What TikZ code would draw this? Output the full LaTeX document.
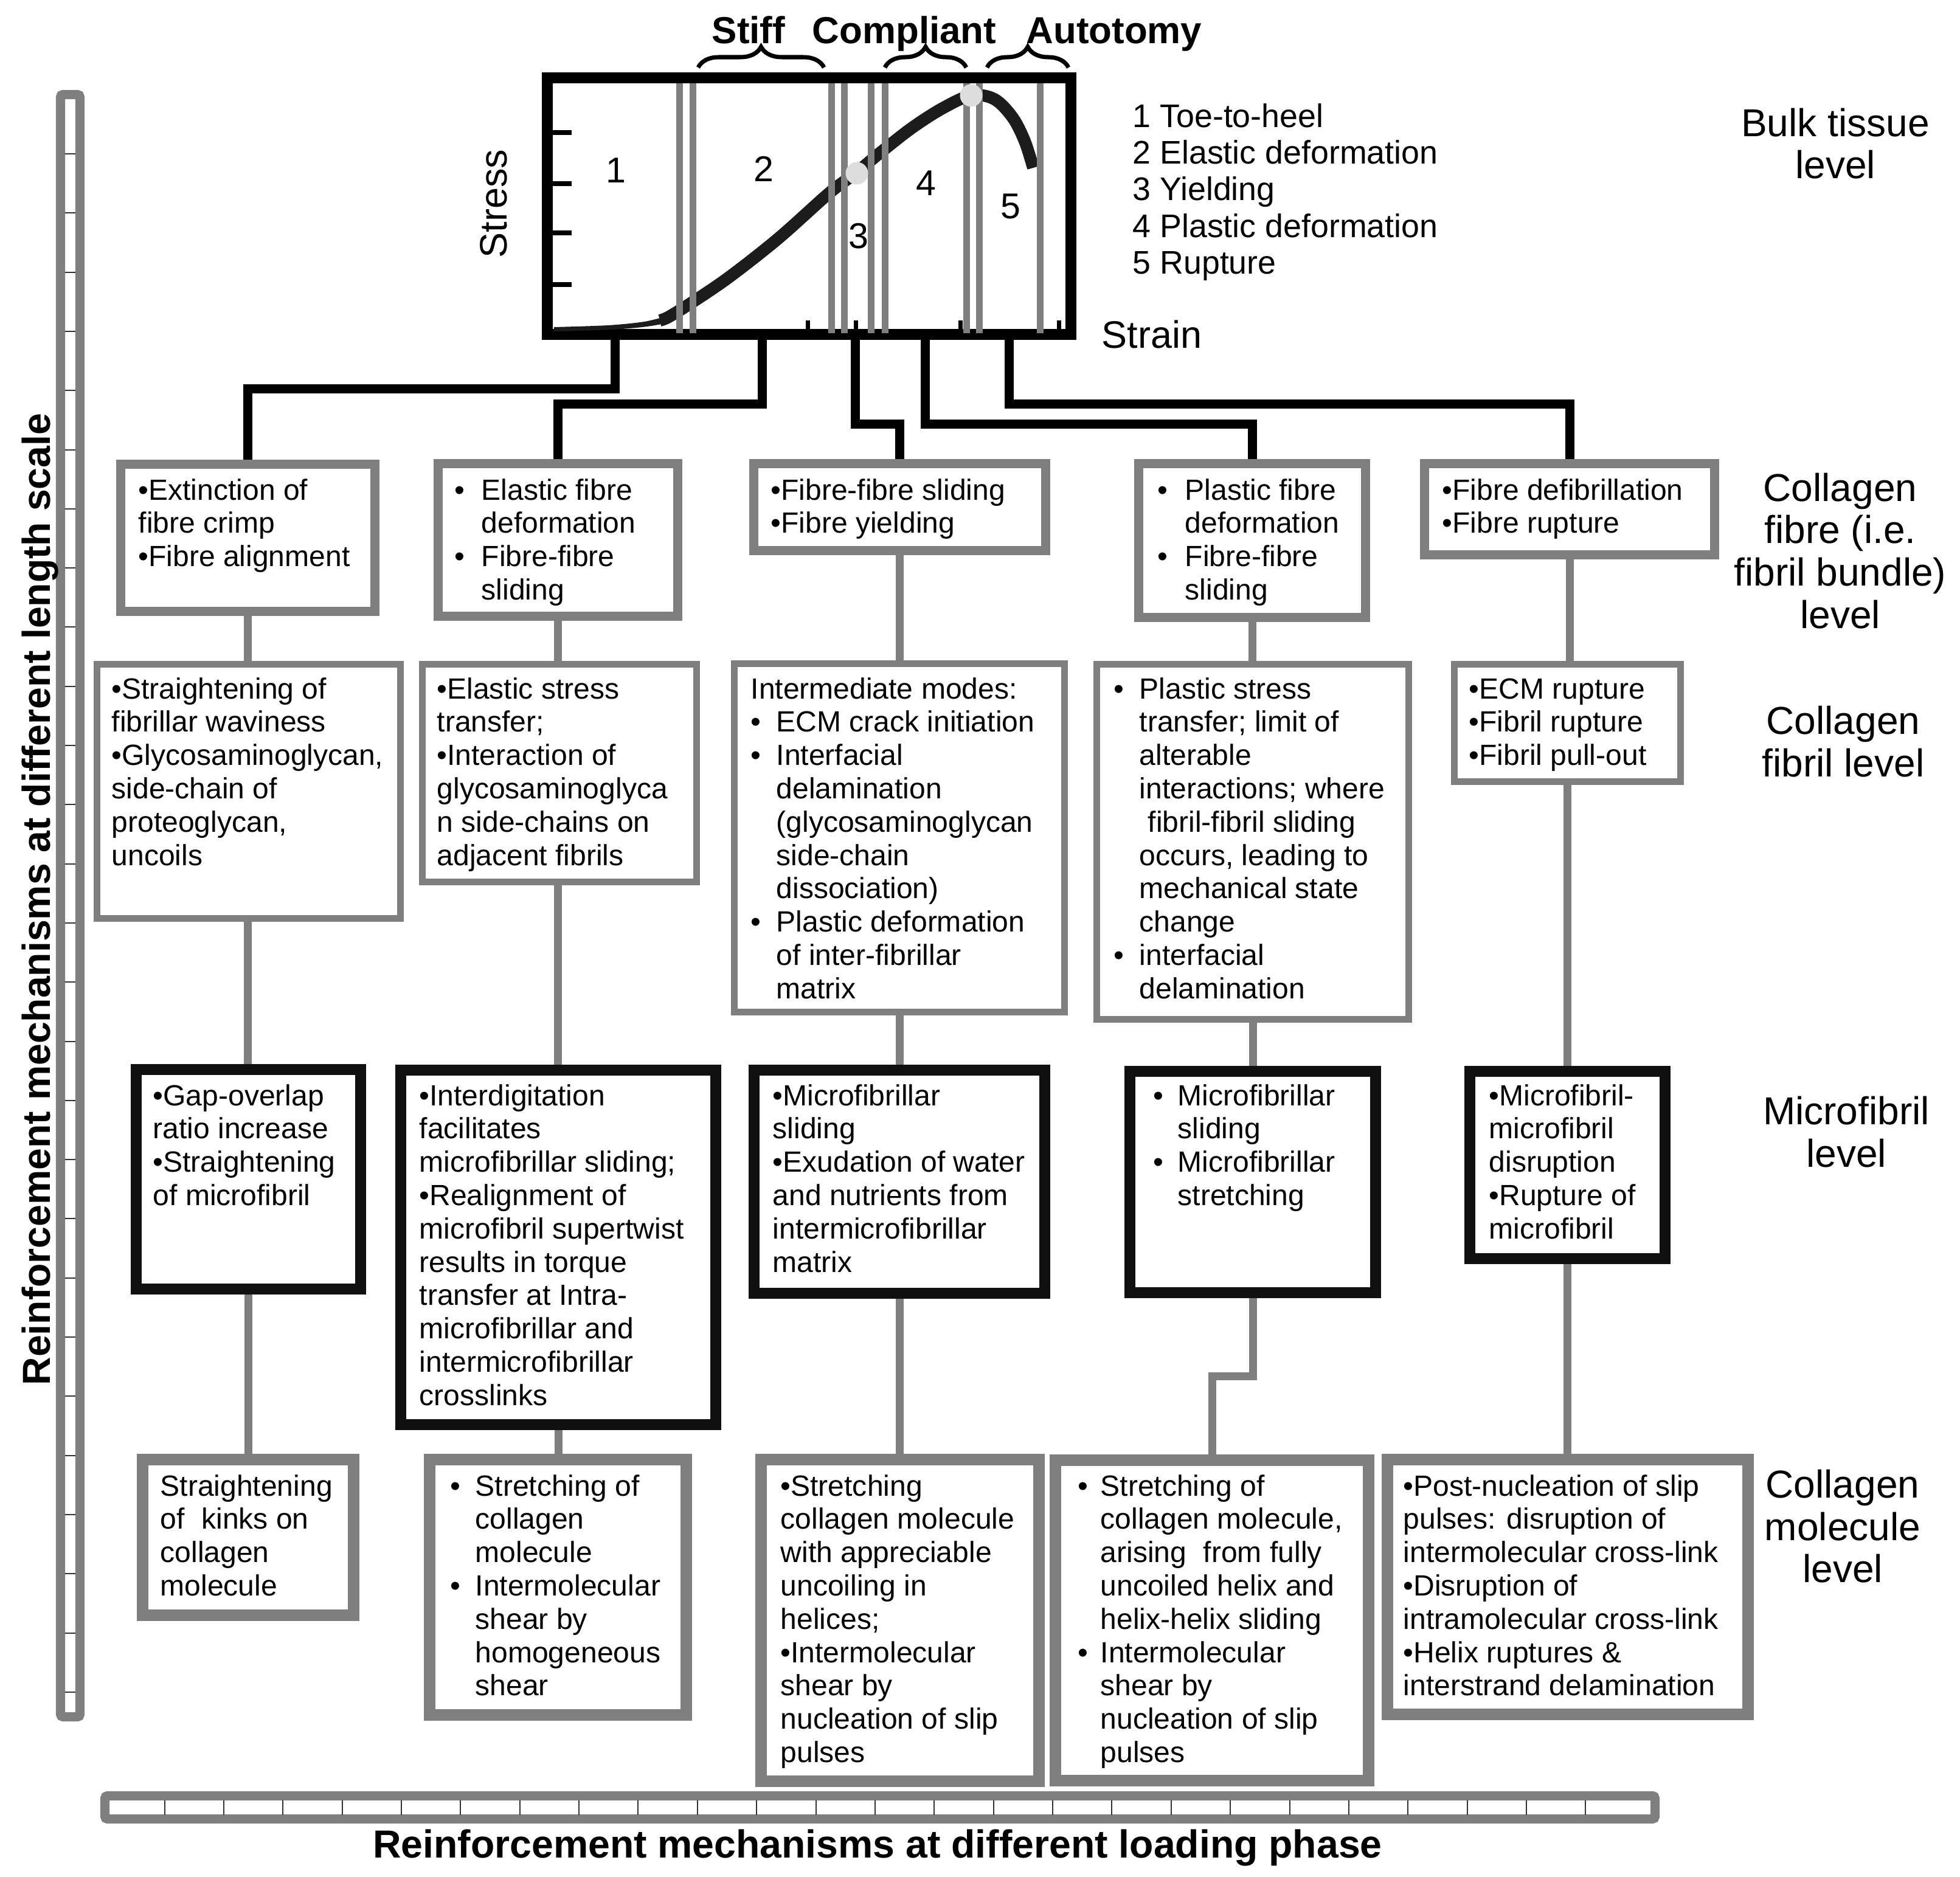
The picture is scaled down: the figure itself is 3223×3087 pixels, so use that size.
\documentclass[tikz,border=0pt]{standalone}
\usepackage{fontspec}
\setmainfont{Liberation Sans}
\usetikzlibrary{fit,decorations.pathreplacing}
\definecolor{gcol}{HTML}{7F7F7F}
\definecolor{bcol}{HTML}{101010}
\definecolor{dotcol}{HTML}{DDDDDD}
\definecolor{curvecol}{HTML}{1C1C1C}
\newlength\bw
\newcommand\bl{\makebox[\bw][l]{•}}
\newcommand\ind{\hspace*{\bw}}
\newcommand\tb[1]{\begin{tabular}[t]{@{}l@{}}#1\end{tabular}}
\newcommand\tc[1]{\begin{tabular}[t]{@{}c@{}}#1\end{tabular}}
\begin{document}
\begin{tikzpicture}[x=0.01cm,y=-0.01cm,
  boxbase/.style={rectangle, inner sep=0pt, fill=white},
  rowa/.style={boxbase, draw=gcol, line width=0.15cm},
  rowb/.style={boxbase, draw=gcol, line width=0.11cm},
  rowc/.style={boxbase, draw=bcol, line width=0.18cm},
  rowd/.style={boxbase, draw=gcol, line width=0.19cm},
  txt/.style={anchor=base west, inner sep=0pt, font=\fontsize{13.66pt}{15.59pt}\selectfont},
  lvl/.style={anchor=base, inner sep=0pt, font=\fontsize{18.2pt}{19.9pt}\selectfont},
  legtxt/.style={anchor=base west, inner sep=0pt, font=\fontsize{15.28pt}{17.16pt}\selectfont},
  chnum/.style={anchor=base, inner sep=0pt, font=\fontsize{16.8pt}{19pt}\selectfont},
  ttl/.style={anchor=base, inner sep=0pt, font=\bfseries\fontsize{18.3pt}{20pt}\selectfont},
  phasetxt/.style={anchor=base, inner sep=0pt, font=\bfseries\fontsize{17.6pt}{20pt}\selectfont},
  axl/.style={inner sep=0pt, font=\fontsize{17.9pt}{20pt}\selectfont},
  blk/.style={draw=black, line width=0.15cm},
  gcon/.style={draw=gcol, line width=0.13cm},
  gline/.style={draw=gcol, line width=0.11cm},
  chartdot/.style={circle, fill=dotcol, minimum size=0.37cm, inner sep=0pt},
  bracefx/.style={decorate, decoration={brace, amplitude=0.34cm}, line width=0.07cm},
  bartick/.style={draw=black!80, line width=0.02cm},
  scalebar/.style={draw=gcol, fill=white, line width=0.15cm, rounded corners=0.04cm},
]
\useasboundingbox[fill=white] (0,0) rectangle (3223,3087);

% ---------- scale bars ----------
\draw[scalebar] (99.5,155.5) rectangle (131.5,2823.5);
\foreach \k in {0,...,26} \draw[bartick] (107,{253+97.3*\k}) -- (124,{253+97.3*\k});
\draw[scalebar] (172.5,2953.5) rectangle (2721.5,2991.5);
\foreach \k in {0,...,24} \draw[bartick] ({270.5+97.37*\k},2961) -- ({270.5+97.37*\k},2985);

\node[ttl, rotate=90] (ytitle) at (82,1479) {Reinforcement mechanisms at different length scale};
\node[ttl] (xtitle) at (1443,3055) {Reinforcement mechanisms at different loading phase};

% ---------- stress-strain chart ----------
\node[boxbase, draw=black, line width=0.18cm, fit={(900,128) (1761,550)}] (chart) {};
\fill[curvecol] (911,543) .. controls (1000,541) and (1060,536) .. (1100,518)
  -- (1100,530) .. controls (1060,541) and (1000,543) .. (911,545) -- cycle;
\draw[curvecol, line width=0.2cm] plot[smooth, tension=0.55] coordinates {
 (1085,527) (1100,521) (1140,496) (1200,455) (1280,392)
 (1363,318) (1409,283) (1450,249) (1500,210) (1550,178) (1597,157) (1635,163)
 (1665,193) (1685,232) (1699,276)};
\draw[curvecol, line width=0.06cm] plot[smooth, tension=0.5] coordinates {(911,541) (1000,538) (1060,532) (1100,522)};
\foreach \x in {1117,1139,1367,1388,1432,1455,1589,1610,1710} \draw[gline] (\x,137) -- (\x,548);
\foreach \y in {218,302,383,468} \draw[black, line width=0.08cm] (909,\y) -- (940,\y);
\foreach \x in {1328,1407,1579,1741} \draw[black, line width=0.07cm] (\x,527) -- (\x,545);
\node[chartdot] (yield) at (1409,285) {};
\node[chartdot] (peak) at (1597,157) {};
\node[chnum] (n1) at (1013,300) {1};
\node[chnum] (n2) at (1256,298) {2};
\node[chnum] (n3) at (1412,408) {3};
\node[chnum] (n4) at (1523,321) {4};
\node[chnum] (n5) at (1662,359) {5};
\node[axl, rotate=90, anchor=base] (stress) at (833,335) {Stress};
\node[axl, anchor=base west] (strain) at (1811,572) {Strain};

\draw[bracefx] (1148,111) -- (1355,111);
\draw[bracefx] (1455,111) -- (1589,111);
\draw[bracefx] (1623,111) -- (1757,111);
\node[phasetxt] (stiff) at (1231,71) {Stiff};
\node[phasetxt] (compl) at (1487,71) {Compliant};
\node[phasetxt] (autot) at (1832,71) {Autotomy};

\node[legtxt] (leg) at (1862,209) {\tb{1 Toe-to-heel\\2 Elastic deformation\\3 Yielding\\4 Plastic deformation\\5 Rupture}};

% ---------- level labels ----------
\node[lvl] (L1) at (3018,224) {\tc{Bulk tissue\\level}};
\node[lvl] (L2) at (3026,824) {\tc{Collagen\\fibre (i.e.\\fibril bundle)\\level}};
\node[lvl] (L3) at (3031,1207) {\tc{Collagen\\fibril level}};
\node[lvl] (L4) at (3036,1849) {\tc{Microfibril\\level}};
\node[lvl] (L5) at (3030,2463) {\tc{Collagen\\molecule\\level}};

% ---------- boxes ----------
\node[rowa, fit={(198.5,763.5) (616.5,1005.5)}] (A1) {};
\node[rowa, fit={(720.5,762.5) (1114.5,1013.5)}] (B1) {};
\node[rowa, fit={(1239.5,762.5) (1719.5,905.5)}] (C1) {};
\node[rowa, fit={(1872.5,762.5) (2245.5,1015.5)}] (D1) {};
\node[rowa, fit={(2342.5,762.5) (2819.5,912.5)}] (E1) {};

\node[rowb, fit={(159.5,1092.5) (658.5,1510.5)}] (A2) {};
\node[rowb, fit={(694.5,1092.5) (1145.5,1450.5)}] (B2) {};
\node[rowb, fit={(1207.5,1091.5) (1750.5,1664.5)}] (C2) {};
\node[rowb, fit={(1803.5,1092.5) (2316.5,1676.5)}] (D2) {};
\node[rowb, fit={(2391.5,1092.5) (2763.5,1285.5)}] (E2) {};

\node[rowc, fit={(224,1759) (593,2120)}] (A3) {};
\node[rowc, fit={(659,1760) (1177,2343)}] (B3) {};
\node[rowc, fit={(1240,1760) (1718,2127)}] (C3) {};
\node[rowc, fit={(1858,1762) (2262,2126)}] (D3) {};
\node[rowc, fit={(2417,1762) (2738,2070)}] (E3) {};

\node[rowd, fit={(234.5,2400.5) (581.5,2656.5)}] (A4) {};
\node[rowd, fit={(706.5,2400.5) (1128.5,2820.5)}] (B4) {};
\node[rowd, fit={(1251.5,2400.5) (1708.5,2929.5)}] (C4) {};
\node[rowd, fit={(1735.5,2401.5) (2250.5,2928.5)}] (D4) {};
\node[rowd, fit={(2281.5,2400.5) (2874.5,2819.5)}] (E4) {};

% ---------- black connectors from chart ----------
\coordinate (h1) at (1011,639);
\coordinate (h2) at (1253,664);
\coordinate (h3) at (1406,697);
\coordinate (h4) at (1521,697);
\coordinate (h5) at (1659,664);
\draw[blk] (h1 |- chart.south) -- (h1) -| (A1.north);
\draw[blk] (h2 |- chart.south) -- (h2) -| (B1.north);
\draw[blk] (h3 |- chart.south) -- (h3) -| (C1.north);
\draw[blk] (h4 |- chart.south) -- (h4) -| (D1.north);
\draw[blk] (h5 |- chart.south) -- (h5) -| (E1.north);

% ---------- gray connectors ----------
\draw[gcon] (A1.south) -- (A1.south |- A2.north);
\draw[gcon] (A2.south -| A1.south) -- (A1.south |- A3.north);
\draw[gcon] (A3.south) -- (A3.south |- A4.north);
\draw[gcon] (B1.south) -- (B1.south |- B2.north);
\draw[gcon] (B2.south -| B1.south) -- (B1.south |- B3.north);
\draw[gcon] (B3.south) -- (B3.south |- B4.north);
\draw[gcon] (C1.south) -- (C1.south |- C2.north);
\draw[gcon] (C2.south) -- (C2.south |- C3.north);
\draw[gcon] (C3.south) -- (C3.south |- C4.north);
\draw[gcon] (D1.south) -- (D1.south |- D2.north);
\draw[gcon] (D2.south) -- (D2.south |- D3.north);
\coordinate (j4) at (1993,2263);
\draw[gcon] (D3.south) |- (j4) -- (D4.north);
\draw[gcon] (E1.south) -- (E1.south |- E2.north);
\draw[gcon] (E2.south) -- (E2.south |- E3.north);
\draw[gcon] (E3.south) -- (E3.south |- E4.north);

% ---------- box texts ----------
\node[txt] (A1t) at (227,822) {\tb{•Extinction of\\fibre crimp\\•Fibre alignment}};
\node[txt] (B1t) at (747,822) {\setlength\bw{0.44cm}\tb{\bl Elastic fibre\\\ind deformation\\\bl Fibre-fibre\\\ind sliding}};
\node[txt] (C1t) at (1267,822) {\tb{•Fibre-fibre sliding\\•Fibre yielding}};
\node[txt] (D1t) at (1903,822) {\setlength\bw{0.45cm}\tb{\bl Plastic fibre\\\ind deformation\\\bl Fibre-fibre\\\ind sliding}};
\node[txt] (E1t) at (2371,822) {\tb{•Fibre defibrillation\\•Fibre rupture}};

\node[txt] (A2t) at (183,1149) {\tb{•Straightening of\\fibrillar waviness\\•Glycosaminoglycan,\\side-chain of\\proteoglycan,\\uncoils}};
\node[txt] (B2t) at (718,1149) {\tb{•Elastic stress\\transfer;\\•Interaction of\\glycosaminoglyca\\n side-chains on\\adjacent fibrils}};
\node[txt] (C2t) at (1234,1149) {\setlength\bw{0.42cm}\tb{Intermediate modes:\\\bl ECM crack initiation\\\bl Interfacial\\\ind delamination\\\ind (glycosaminoglycan\\\ind side-chain\\\ind dissociation)\\\bl Plastic deformation\\\ind of inter-fibrillar\\\ind matrix}};
\node[txt] (D2t) at (1831,1149) {\setlength\bw{0.42cm}\tb{\bl Plastic stress\\\ind transfer; limit of\\\ind alterable\\\ind interactions; where\\\ind\hspace*{0.14cm}fibril-fibril sliding\\\ind occurs, leading to\\\ind mechanical state\\\ind change\\\bl interfacial\\\ind delamination}};
\node[txt] (E2t) at (2415,1149) {\tb{•ECM rupture\\•Fibril rupture\\•Fibril pull-out}};

\node[txt] (A3t) at (251,1818) {\tb{•Gap-overlap\\ratio increase\\•Straightening\\of microfibril}};
\node[txt] (B3t) at (689,1818) {\tb{•Interdigitation\\facilitates\\microfibrillar sliding;\\•Realignment of\\microfibril supertwist\\results in torque\\transfer at Intra-\\microfibrillar and\\intermicrofibrillar\\crosslinks}};
\node[txt] (C3t) at (1270,1818) {\tb{•Microfibrillar\\sliding\\•Exudation of water\\and nutrients from\\intermicrofibrillar\\matrix}};
\node[txt] (D3t) at (1896,1818) {\setlength\bw{0.40cm}\tb{\bl Microfibrillar\\\ind sliding\\\bl Microfibrillar\\\ind stretching}};
\node[txt] (E3t) at (2448,1818) {\tb{•Microfibril-\\microfibril\\disruption\\•Rupture of\\microfibril}};

\node[txt] (A4t) at (263,2460) {\tb{Straightening\\of\hspace*{0.3em} kinks on\\collagen\\molecule}};
\node[txt] (B4t) at (740,2460) {\setlength\bw{0.41cm}\tb{\bl Stretching of\\\ind collagen\\\ind molecule\\\bl Intermolecular\\\ind shear by\\\ind homogeneous\\\ind shear}};
\node[txt] (C4t) at (1283,2460) {\tb{•Stretching\\collagen molecule\\with appreciable\\uncoiling in\\helices;\\•Intermolecular\\shear by\\nucleation of slip\\pulses}};
\node[txt] (D4t) at (1772,2460) {\setlength\bw{0.37cm}\tb{\bl Stretching of\\\ind collagen molecule,\\\ind arising\hspace*{0.3em} from fully\\\ind uncoiled helix and\\\ind helix-helix sliding\\\bl Intermolecular\\\ind shear by\\\ind nucleation of slip\\\ind pulses}};
\node[txt] (E4t) at (2307,2460) {\tb{•Post-nucleation of slip\\pulses: disruption of\\intermolecular cross-link\\•Disruption of\\intramolecular cross-link\\•Helix ruptures \&\\interstrand delamination}};
\end{tikzpicture}
\end{document}
